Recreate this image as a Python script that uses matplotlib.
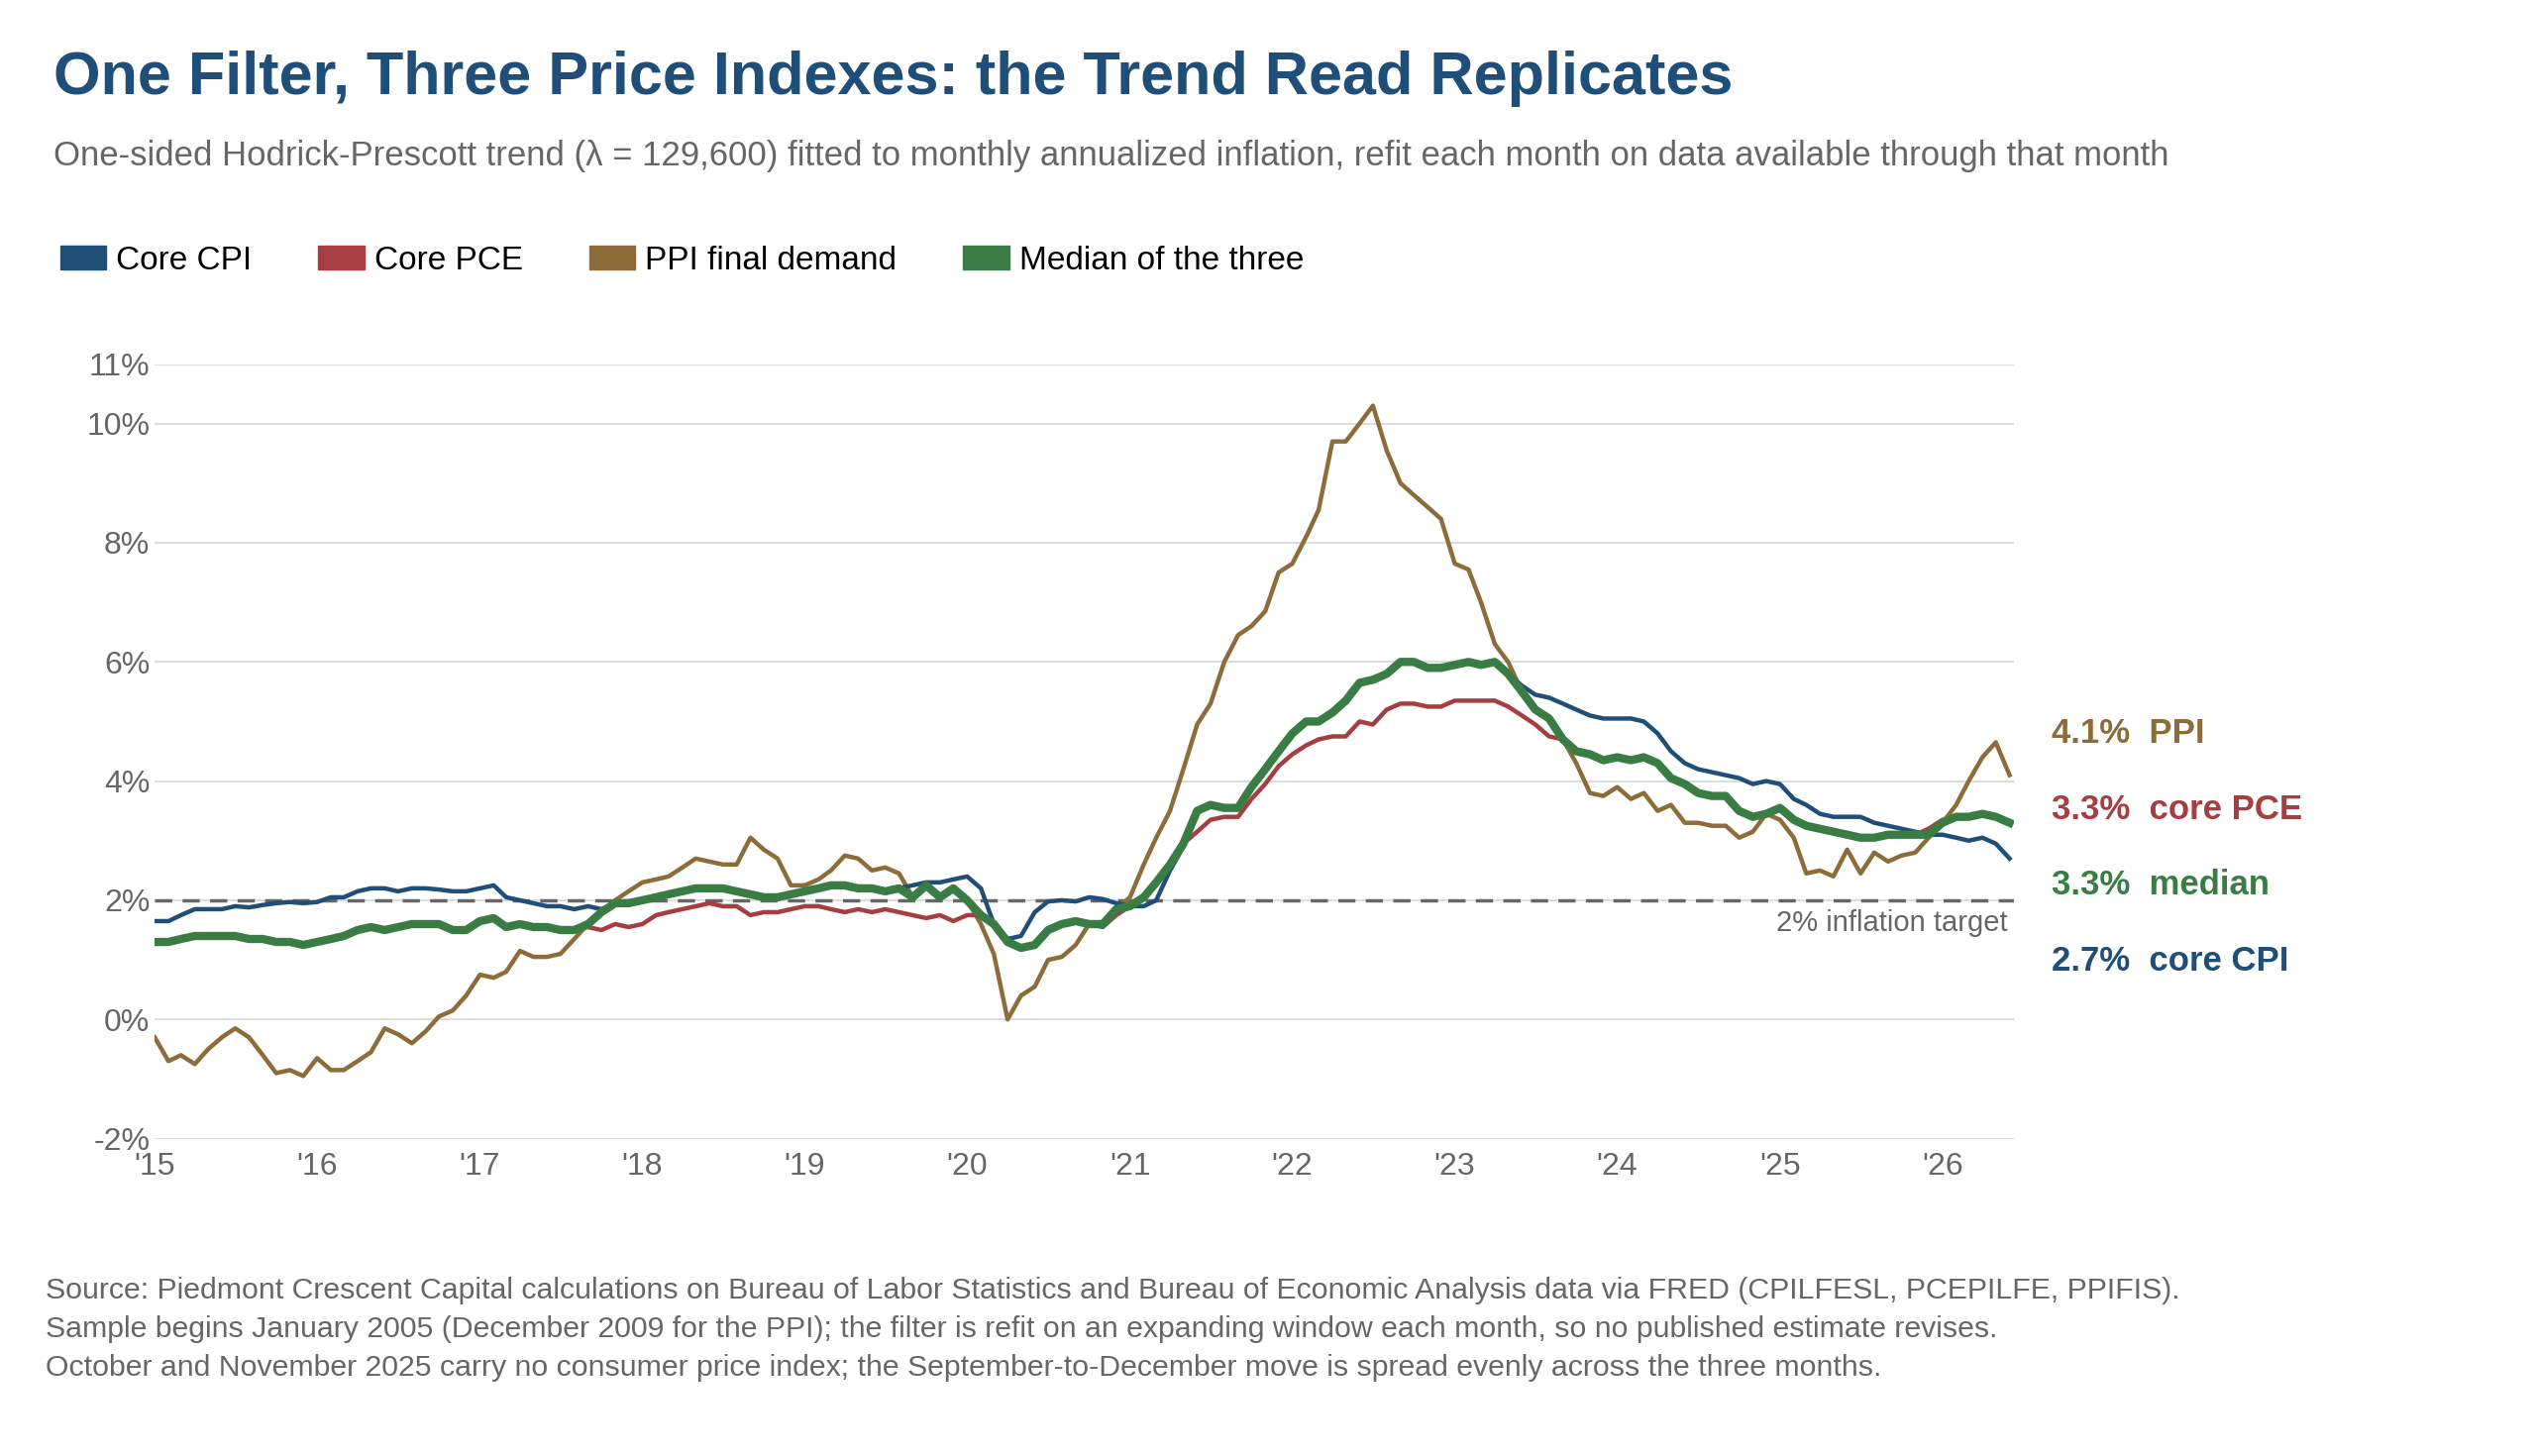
import numpy as np
import pandas as pd
import matplotlib
matplotlib.use("Agg")
import matplotlib.pyplot as plt
from matplotlib.patches import Patch

plt.rcParams['font.family'] = ['Liberation Sans', 'DejaVu Sans']

months = pd.date_range("2015-01-01", "2026-06-01", freq="MS")

core_cpi = [
 1.65,1.65,1.75,1.85,1.85,1.85,1.9,1.88,1.92,1.95,1.97,1.95,
 1.97,2.05,2.05,2.15,2.2,2.2,2.15,2.2,2.2,2.18,2.15,2.15,
 2.2,2.25,2.05,2.0,1.95,1.9,1.9,1.85,1.9,1.85,1.95,1.95,
 2.0,2.05,2.1,2.15,2.2,2.2,2.2,2.15,2.1,2.05,2.05,2.1,
 2.15,2.2,2.25,2.25,2.2,2.2,2.15,2.2,2.25,2.3,2.3,2.35,
 2.4,2.2,1.6,1.35,1.4,1.8,1.98,2.0,1.98,2.05,2.02,1.95,
 1.9,1.9,2.0,2.5,2.9,3.5,3.6,3.55,3.55,3.9,4.2,4.5,
 4.8,5.0,5.0,5.15,5.35,5.65,5.7,5.8,6.0,6.0,5.9,5.9,
 5.95,6.0,5.95,6.0,5.8,5.6,5.45,5.4,5.3,5.2,5.1,5.05,
 5.05,5.05,5.0,4.8,4.5,4.3,4.2,4.15,4.1,4.05,3.95,4.0,
 3.95,3.7,3.6,3.45,3.4,3.4,3.4,3.3,3.25,3.2,3.15,3.1,
 3.1,3.05,3.0,3.05,2.95,2.7]

core_pce = [
 1.3,1.3,1.35,1.4,1.4,1.4,1.4,1.35,1.35,1.3,1.3,1.25,
 1.3,1.35,1.4,1.5,1.55,1.5,1.55,1.6,1.6,1.6,1.5,1.5,
 1.65,1.7,1.55,1.6,1.55,1.55,1.5,1.5,1.55,1.5,1.6,1.55,
 1.6,1.75,1.8,1.85,1.9,1.95,1.9,1.9,1.75,1.8,1.8,1.85,
 1.9,1.9,1.85,1.8,1.85,1.8,1.85,1.8,1.75,1.7,1.75,1.65,
 1.75,1.75,1.6,1.3,1.2,1.25,1.5,1.6,1.65,1.6,1.55,1.75,
 1.9,2.05,2.3,2.6,2.95,3.15,3.35,3.4,3.4,3.7,3.95,4.25,
 4.45,4.6,4.7,4.75,4.75,5.0,4.95,5.2,5.3,5.3,5.25,5.25,
 5.35,5.35,5.35,5.35,5.25,5.1,4.95,4.75,4.7,4.5,4.45,4.35,
 4.4,4.35,4.4,4.3,4.05,3.95,3.8,3.75,3.75,3.5,3.4,3.45,
 3.55,3.35,3.25,3.2,3.15,3.1,3.05,3.05,3.1,3.1,3.1,3.2,
 3.35,3.4,3.4,3.45,3.4,3.3]

ppi = [
 -0.3,-0.7,-0.6,-0.75,-0.5,-0.3,-0.15,-0.3,-0.6,-0.9,-0.85,-0.95,
 -0.65,-0.85,-0.85,-0.7,-0.55,-0.15,-0.25,-0.4,-0.2,0.05,0.15,0.4,
 0.75,0.7,0.8,1.15,1.05,1.05,1.1,1.35,1.6,1.8,2.0,2.15,
 2.3,2.35,2.4,2.55,2.7,2.65,2.6,2.6,3.05,2.85,2.7,2.25,
 2.25,2.35,2.5,2.75,2.7,2.5,2.55,2.45,2.05,2.25,2.05,2.2,
 2.0,1.6,1.1,0.0,0.4,0.55,1.0,1.05,1.25,1.6,1.6,1.85,
 2.05,2.6,3.05,3.5,4.2,4.95,5.3,6.0,6.45,6.6,6.85,7.5,
 7.65,8.1,8.55,9.7,9.7,10.0,10.3,9.55,9.0,8.8,8.6,8.4,
 7.65,7.55,7.0,6.3,6.0,5.5,5.2,5.05,4.7,4.3,3.8,3.75,
 3.9,3.7,3.8,3.5,3.6,3.3,3.3,3.25,3.25,3.05,3.15,3.45,
 3.35,3.05,2.45,2.5,2.4,2.85,2.45,2.8,2.65,2.75,2.8,3.05,
 3.3,3.6,4.0,4.4,4.65,4.1]

median3 = np.median(np.vstack([core_cpi, core_pce, ppi]), axis=0)

C_CPI, C_PCE, C_PPI, C_MED = "#1f4e79", "#a63d40", "#8c6d3a", "#3a7d44"

AX_B, AX_H = 0.218, 0.532
fig = plt.figure(figsize=(25.6, 14.7), dpi=100)
ax = fig.add_axes([0.061, AX_B, 0.733, AX_H])

ax.plot(months, ppi, color=C_PPI, lw=3.2, zorder=3)
ax.plot(months, core_pce, color=C_PCE, lw=3.2, zorder=3)
ax.plot(months, core_cpi, color=C_CPI, lw=3.2, zorder=4)
ax.plot(months, median3, color=C_MED, lw=6, zorder=5)
ax.axhline(2, color="#666666", lw=2.5, ls=(0, (5, 3)), zorder=2)
ax.text(months[-1] - pd.Timedelta(days=5), 1.85, "2% inflation target", ha="right", va="top",
        fontsize=21, color="#666666")

ax.set_ylim(-2, 11)
ax.set_xlim(pd.Timestamp("2015-01-01"), pd.Timestamp("2026-06-10"))
ax.set_yticks([-2, 0, 2, 4, 6, 8, 10, 11])
ax.set_yticklabels(["-2%", "0%", "2%", "4%", "6%", "8%", "10%", "11%"])
ax.set_xticks([pd.Timestamp(f"{y}-01-01") for y in range(2015, 2027)])
ax.set_xticklabels([f"'{y % 100:02d}" for y in range(2015, 2027)])
ax.grid(axis="y", color="#dddddd", lw=1.5)
ax.set_axisbelow(True)
for s in ax.spines.values():
    s.set_visible(False)
ax.tick_params(length=0, labelsize=23, colors="#666666")
ax.tick_params(axis="x", pad=10)

lab_x = 0.809
for yv, txt, col in [(4.8, "4.1%  PPI", C_PPI), (3.52, "3.3%  core PCE", C_PCE),
                     (2.25, "3.3%  median", C_MED), (0.98, "2.7%  core CPI", C_CPI)]:
    yf = AX_B + AX_H * (yv + 2) / 13
    fig.text(lab_x, yf, txt, color=col, fontsize=25, fontweight="bold", va="center")

fig.text(0.021, 0.946, "One Filter, Three Price Indexes: the Trend Read Replicates",
         fontsize=44, fontweight="bold", color="#1f4e79", va="center")
fig.text(0.021, 0.893, "One-sided Hodrick-Prescott trend (λ = 129,600) fitted to monthly annualized inflation, "
         "refit each month on data available through that month", fontsize=25, color="#666666", va="center")

handles = [Patch(color=c) for c in (C_CPI, C_PCE, C_PPI, C_MED)]
fig.legend(handles, ["Core CPI", "Core PCE", "PPI final demand", "Median of the three"],
           loc="center left", bbox_to_anchor=(0.012, 0.821), ncol=4, frameon=False,
           fontsize=24, handlelength=1.4, handleheight=0.7, columnspacing=2.0, handletextpad=0.3)

src = ("Source: Piedmont Crescent Capital calculations on Bureau of Labor Statistics and Bureau of Economic Analysis data via FRED (CPILFESL, PCEPILFE, PPIFIS).\n"
       "Sample begins January 2005 (December 2009 for the PPI); the filter is refit on an expanding window each month, so no published estimate revises.\n"
       "October and November 2025 carry no consumer price index; the September-to-December move is spread evenly across the three months.")
fig.text(0.018, 0.123, src, fontsize=21.8, color="#666666", va="top", linespacing=1.5)

fig.savefig("out.png", dpi=100, facecolor="white")
